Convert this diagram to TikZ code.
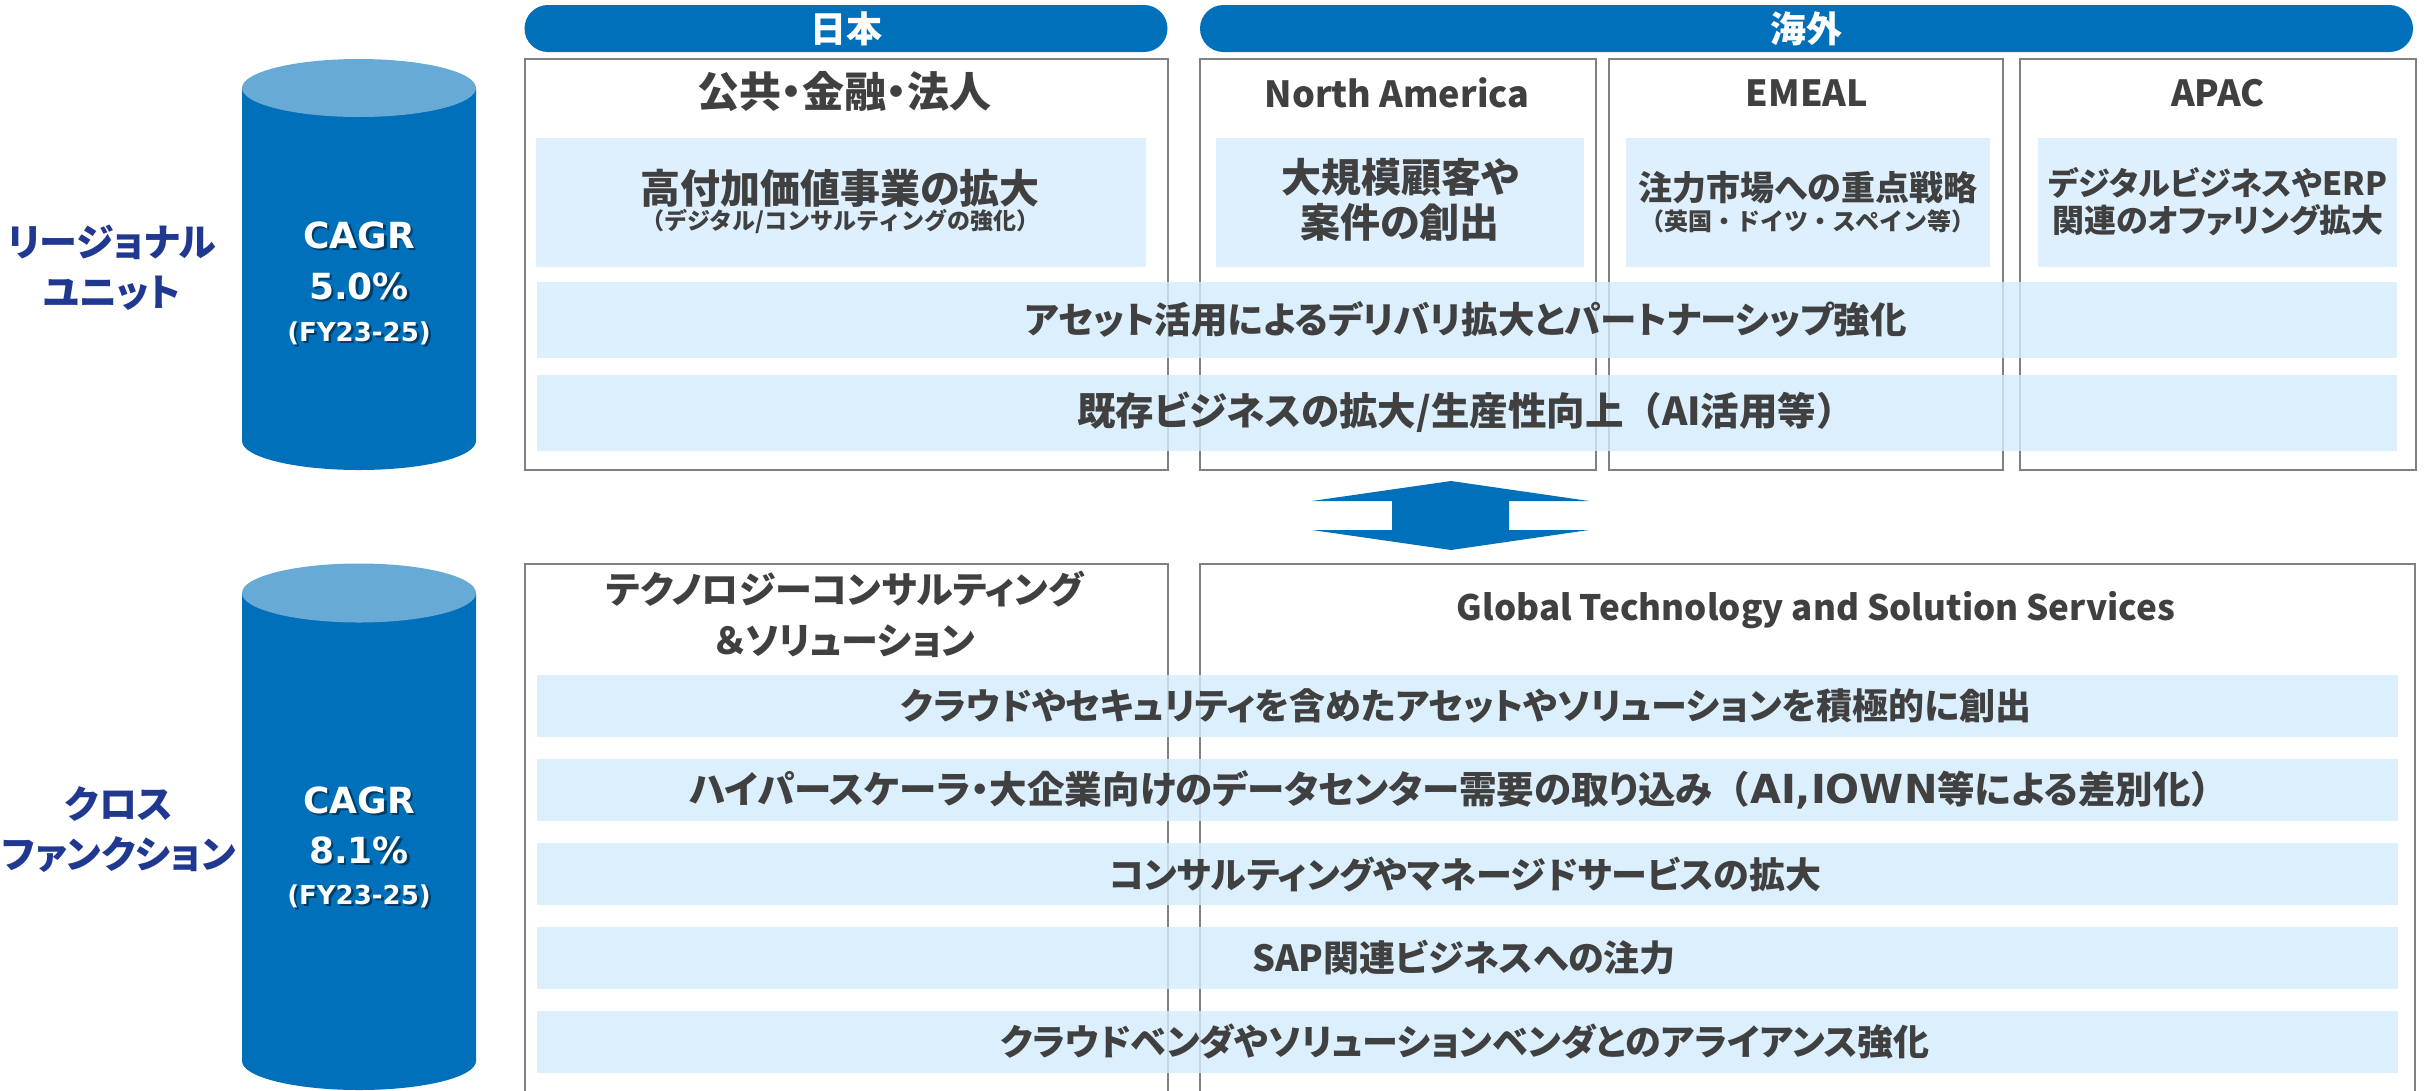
\documentclass[tikz,border=0pt]{standalone}
\usepackage{fontspec}
\newfontfamily\jp{Noto Sans CJK JP}[RawFeature=+palt]
\newfontfamily\jpf{Noto Sans CJK JP}
\newfontfamily\cg{DejaVu Sans}
\definecolor{nttblue}{RGB}{0,112,186}
\definecolor{cyltop}{RGB}{104,170,214}
\definecolor{navy}{RGB}{32,56,144}
\definecolor{txt}{RGB}{64,64,64}
\definecolor{lightbox}{RGB}{222,240,253}
\definecolor{band}{RGB}{212,236,252}
\definecolor{boxline}{RGB}{128,128,128}
\newcommand{\fwl}{{\jpf （}}
\newcommand{\fwr}{{\jpf ）}}
\tikzset{
  jt/.style 2 args={font=\jp\bfseries\fontsize{#1}{#2}\selectfont, text=txt, inner sep=0pt, align=center},
  lab/.style={font=\jp\bfseries\fontsize{38}{50}\selectfont, text=navy, inner sep=0pt, align=center},
  cagr/.style={font=\cg\bfseries\fontsize{#1}{#1}\selectfont, text=white, inner sep=0pt},
  cagrsh/.style={font=\cg\bfseries\fontsize{#1}{#1}\selectfont, text=black, text opacity=0.45, inner sep=0pt},
  pill/.style={fill=nttblue, rounded corners=23.5pt, minimum height=47pt, inner sep=0pt},
  pilltext/.style={font=\jp\bfseries\fontsize{36}{36}\selectfont, text=white, inner sep=0pt},
  outer/.style={draw=boxline, line width=2pt, minimum height=411pt, inner sep=0pt},
  inner/.style={fill=lightbox, minimum height=129pt, inner sep=0pt},
  topband/.style={fill=band, fill opacity=0.8, minimum width=1860pt, minimum height=76pt, inner sep=0pt},
  botband/.style={fill=band, fill opacity=0.8, minimum width=1861pt, minimum height=62pt, inner sep=0pt},
}
\begin{document}
\begin{tikzpicture}[x=1pt,y=1pt]
\useasboundingbox (0,0) rectangle (2433,-1090);
\fill[white] (0,0) rectangle (2433,-1090);

% cylinders
\fill[nttblue] (242,-88) -- (242,-441) arc[start angle=180,end angle=360,x radius=117,y radius=29] -- (476,-88) -- cycle;
\fill[cyltop] (359,-88) ellipse[x radius=117, y radius=29];
\fill[nttblue] (242,-593) -- (242,-1061) arc[start angle=180,end angle=360,x radius=117,y radius=29] -- (476,-593) -- cycle;
\fill[cyltop] (359,-593) ellipse[x radius=117, y radius=29.5];

\node[cagrsh=36] (s1a) at (361.5,-237.5) {CAGR};
\node[cagrsh=36] (s1b) at (361.5,-288.5) {5.0\%};
\node[cagrsh=26] (s1c) at (361.5,-335.5) {(FY23-25)};
\node[cagrsh=36] (s2a) at (361.5,-802.5) {CAGR};
\node[cagrsh=36] (s2b) at (361.5,-852.5) {8.1\%};
\node[cagrsh=26] (s2c) at (361.5,-898.5) {(FY23-25)};
\node[cagr=36] (c1a) at (359,-235) {CAGR};
\node[cagr=36] (c1b) at (359,-286) {5.0\%};
\node[cagr=26] (c1c) at (359,-333) {(FY23-25)};
\node[cagr=36] (c2a) at (359,-800) {CAGR};
\node[cagr=36] (c2b) at (359,-850) {8.1\%};
\node[cagr=26] (c2c) at (359,-896) {(FY23-25)};

\node[lab] (l1) at (112,-268) {リージョナル\\ユニット};
\node[lab] (l2) at (119,-830) {クロス\\ファンクション};

% pills
\node[pill, minimum width=643pt] (pjp) at (846,-28.5) {};
\node[pilltext] (tjp) at (pjp.center) {日本};
\node[pill, minimum width=1213pt] (pkg) at (1806.5,-28.5) {};
\node[pilltext] (tkg) at (pkg.center) {海外};

% top boxes
\node[outer, minimum width=643pt] (bjp) at (846.5,-264.5) {};
\node[outer, minimum width=396pt] (bna) at (1398,-264.5) {};
\node[outer, minimum width=394pt] (bem) at (1806,-264.5) {};
\node[outer, minimum width=396pt] (bap) at (2218,-264.5) {};

% bottom boxes (open at bottom)
\draw[boxline, line width=2pt] (525,-1095) |- (1168,-564) -- (1168,-1095);
\draw[boxline, line width=2pt] (1200,-1095) |- (2415,-564) -- (2415,-1095);

% inner boxes
\node[inner, minimum width=610pt] (ijp) at (841,-202.5) {};
\node[inner, minimum width=368pt] (ina) at (1400,-202.5) {};
\node[inner, minimum width=364pt] (iem) at (1808,-202.5) {};
\node[inner, minimum width=359pt] (iap) at (2217.5,-202.5) {};

% bands
\node[topband] (tb1) at (1467,-320) {};
\node[topband] (tb2) at (1467,-413) {};
\node[botband] (bb1) at (1467.5,-706) {};
\node[botband] (bb2) at (1467.5,-790) {};
\node[botband] (bb3) at (1467.5,-874) {};
\node[botband] (bb4) at (1467.5,-957.5) {};
\node[botband] (bb5) at (1467.5,-1041.5) {};

% titles
\node[jt={42}{48}] (hjp) at (844,-92) {公共・金融・法人};
\node[jt={36}{42}] (hna) at (1397,-93) {North America};
\node[jt={36}{42}] (hem) at (1807,-93) {EMEAL};
\node[jt={36}{42}] (hap) at (2218,-93) {APAC};

\node[jt={40}{46}] (x1) at (840,-188) {高付加価値事業の拡大};
\node[jt={23}{27}, font=\jpf\bfseries\fontsize{23}{27}\selectfont] (x1s) at (840,-222) {（デジタル/コンサルティングの強化）};
\node[jt={40}{45}] (x2) at (1400,-200) {大規模顧客や\\案件の創出};
\node[jt={34}{40}] (x3) at (1808,-188) {注力市場への重点戦略};
\node[jt={24}{29}, font=\jpf\bfseries\fontsize{24}{29}\selectfont] (x3s) at (1808,-221) {（英国・ドイツ・スペイン等）};
\node[jt={32}{37}] (x4) at (2218,-202) {デジタルビジネスやERP\\関連のオファリング拡大};

\node[jt={36.5}{42}] (y1) at (1466,-319) {アセット活用によるデリバリ拡大とパートナーシップ強化};
\node[jt={38.5}{44}] (y2) at (1466,-412) {既存ビジネスの拡大/生産性向上\fwl AI活用等\fwr};

\node[jt={37}{51}] (hts) at (845,-614) {テクノロジーコンサルティング\\＆ソリューション};
\node[jt={35}{42}] (hgt) at (1816,-610) {Global Technology and Solution Services};

\node[jt={36}{42}] (z1) at (1466,-706) {クラウドやセキュリティを含めたアセットやソリューションを積極的に創出};
\node[jt={37.5}{43}] (z2) at (1459,-790) {ハイパースケーラ・大企業向けのデータセンター需要の取り込み\fwl{\cg\fontsize{40}{43}\selectfont AI,IOWN}等による差別化\fwr};
\node[jt={36}{42}] (z3) at (1465,-874) {コンサルティングやマネージドサービスの拡大};
\node[jt={36}{42}] (z4) at (1464,-957.5) {SAP関連ビジネスへの注力};
\node[jt={36}{42}] (z5) at (1465,-1041.5) {クラウドベンダやソリューションベンダとのアライアンス強化};

% double arrow
\fill[nttblue] (1451,-481) -- (1589,-501) -- (1509,-501) -- (1509,-530) -- (1589,-530) -- (1451,-550) -- (1312,-530) -- (1392,-530) -- (1392,-501) -- (1312,-501) -- cycle;
\end{tikzpicture}
\end{document}
